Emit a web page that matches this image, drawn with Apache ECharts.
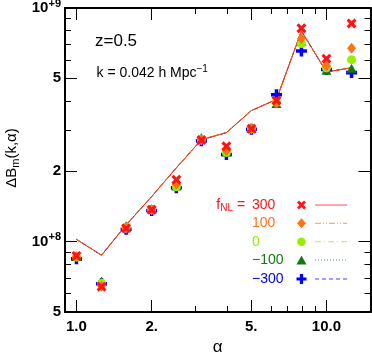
<!DOCTYPE html>
<html><head><meta charset="utf-8">
<script src="https://cdn.jsdelivr.net/npm/echarts@6/dist/echarts.min.js"></script>
<style>html,body{margin:0;padding:0;background:#fff}#c{width:372px;height:354px}</style>
</head><body><div id="c"></div>
<script>
// ---- data ----
const alphaValues = [1.0, 1.26, 1.58, 2.0, 2.51, 3.16, 3.98, 5.01, 6.31, 7.94, 10.0, 12.6];
const fnlLabels = ['300', '100', '0', '\u2212100', '\u2212300'];
const bm_fnl300  = [0.869e8, 0.642e8, 1.14e8, 1.37e8, 1.84e8, 2.72e8, 2.56e8, 3.04e8, 4.02e8, 8.19e8, 6.07e8, 8.58e8];
const bm_fnl100  = [0.863e8, 0.645e8, 1.14e8, 1.37e8, 1.76e8, 2.72e8, 2.45e8, 3.04e8, 3.92e8, 7.40e8, 5.64e8, 6.72e8];
const bm_fnl0    = [0.860e8, 0.662e8, 1.15e8, 1.37e8, 1.72e8, 2.74e8, 2.41e8, 3.04e8, 3.95e8, 7.04e8, 5.55e8, 6.01e8];
const bm_fnlm100 = [0.865e8, 0.678e8, 1.17e8, 1.38e8, 1.73e8, 2.79e8, 2.42e8, 3.05e8, 3.90e8, 7.20e8, 5.41e8, 5.52e8];
const bm_fnlm300 = [0.844e8, 0.660e8, 1.13e8, 1.36e8, 1.70e8, 2.70e8, 2.36e8, 3.03e8, 4.25e8, 6.55e8, 5.46e8, 5.29e8];
const theoryCurve = [1.023e8, 0.875e8, 1.18e8, 1.56e8, 2.07e8, 2.73e8, 2.93e8, 3.64e8, 4.06e8, 7.97e8, 5.32e8, 5.55e8];
const xTickMajor = [1, 2, 5, 10];
const xTickMajorLabels = ['1.0', '2.', '5.', '10.0'];
const xTickMinor = [3, 4, 6, 7, 8, 9];
const yTickMajor = [5e7, 1e8, 2e8, 5e8, 1e9];
const yTickMajorLabels = ['5', '10{sup|+8}', '2', '5', '10{sup|+9}'];
const yTickMinor = [6e7, 7e7, 8e7, 9e7, 3e8, 4e8, 6e8, 7e8, 8e8, 9e8];

// ---- styling ----
const FONT = 'Liberation Sans, Arial, Helvetica, sans-serif';
const colors = ['#ff1414', '#ff7216', '#99ee00', '#137a13', '#0000ff'];
const plusPath = 'path://M3.4,0H6.6V3.4H10V6.6H6.6V10H3.4V6.6H0V3.4H3.4Z';
const crossPath = 'path://M0,2.2L2.2,0L5,2.8L7.8,0L10,2.2L7.2,5L10,7.8L7.8,10L5,7.2L2.2,10L0,7.8L2.8,5Z';
const symbols = [crossPath, 'diamond', 'circle', 'triangle', plusPath];
const symbolSizes = [10, [9, 11], 9, [10, 9], 11];
const lineTypes = ['solid', [6, 2, 1, 2, 1, 2], [6, 3, 1, 3], [1, 2], [4, 3]];
const markerSets = [bm_fnl300, bm_fnl100, bm_fnl0, bm_fnlm100, bm_fnlm300];

function pairs(vals) { return alphaValues.map((a, i) => [a, vals[i]]); }

const series = [];
// theory lines (drawn from bottom to top: -300 ... 300, then orange over red)
[4, 3, 2, 0, 1].forEach(i => {
  series.push({
    type: 'line', xAxisIndex: 0, yAxisIndex: 0, data: pairs(theoryCurve),
    showSymbol: false, symbol: 'none', silent: true, z: 2 + (i === 1 ? 0.5 : 0),
    lineStyle: { color: colors[i], width: 1, type: lineTypes[i], opacity: i === 1 ? 0.7 : 1 }
  });
});
// markers, red on top
[4, 3, 2, 1, 0].forEach((i, k) => {
  series.push({
    type: 'scatter', xAxisIndex: 0, yAxisIndex: 0, data: pairs(markerSets[i]),
    symbol: symbols[i], symbolSize: symbolSizes[i], z: 5 + k,
    itemStyle: { color: colors[i], opacity: 1 }
  });
});

function xAxisDef(pos, vals, len, withLabels) {
  return {
    type: 'log', logBase: 10, min: 0.9, max: 15, position: pos,
    axisLine: { show: withLabels, lineStyle: { color: '#000', width: 2 } },
    axisTick: { show: true, inside: true, length: len, customValues: vals, lineStyle: { color: '#000', width: 1 } },
    axisLabel: pos === 'bottom' && withLabels ? {
      show: true, customValues: vals, margin: 7, color: '#000', fontFamily: FONT, fontWeight: 'bold', fontSize: 15,
      formatter: v => { const j = xTickMajor.findIndex(t => Math.abs(t - v) < 1e-6); return j >= 0 ? xTickMajorLabels[j] : ''; }
    } : { show: false },
    splitLine: { show: false }, minorTick: { show: false },
    name: pos === 'bottom' && withLabels ? '\u03b1' : '', nameLocation: 'middle', nameGap: 25,
    nameTextStyle: { fontFamily: FONT, fontSize: 17, color: '#000' }
  };
}
function yAxisDef(pos, vals, len, withLabels) {
  return {
    type: 'log', logBase: 10, min: 5e7, max: 1e9, position: pos,
    axisLine: { show: withLabels, lineStyle: { color: '#000', width: 2 } },
    axisTick: { show: true, inside: true, length: len, customValues: vals, lineStyle: { color: '#000', width: 1 } },
    axisLabel: pos === 'left' && withLabels ? {
      show: true, customValues: vals, margin: 4, color: '#000', fontFamily: FONT, fontWeight: 'bold', fontSize: 15,
      formatter: v => { const j = yTickMajor.findIndex(t => Math.abs(t - v) / t < 1e-6); return j >= 0 ? yTickMajorLabels[j] : ''; },
      rich: { sup: { fontSize: 11, fontWeight: 'bold', fontFamily: FONT, color: '#000', padding: [0, 0, 9, 0] } }
    } : { show: false },
    splitLine: { show: false }, minorTick: { show: false }
  };
}

// legend (graphic) helpers
const legendRowsY = [205, 223.3, 241.7, 260, 279];
const legendNumX = 252, legendMarkX = 301.5, legendLineX0 = 315, legendLineX1 = 347;
function polyFromUnit(pts, cx, cy, w, h) { return pts.map(p => [cx + (p[0] - 5) * w / 10, cy + (p[1] - 5) * h / 10]); }
const crossUnit = [[0,2.2],[2.2,0],[5,2.8],[7.8,0],[10,2.2],[7.2,5],[10,7.8],[7.8,10],[5,7.2],[2.2,10],[0,7.8],[2.8,5]];
const plusUnit = [[3.4,0],[6.6,0],[6.6,3.4],[10,3.4],[10,6.6],[6.6,6.6],[6.6,10],[3.4,10],[3.4,6.6],[0,6.6],[0,3.4],[3.4,3.4]];
const diamondUnit = [[5,0],[10,5],[5,10],[0,5]];
const triUnit = [[5,0],[10,10],[0,10]];
const graphics = [];
fnlLabels.forEach((lab, i) => {
  const y = legendRowsY[i];
  graphics.push({ type: 'text', x: legendNumX, y: y, z: 20, style: { text: lab, fill: colors[i], font: '14px ' + FONT, align: 'left', verticalAlign: 'middle' } });
  let mk;
  if (i === 0) mk = { type: 'polygon', shape: { points: polyFromUnit(crossUnit, legendMarkX, y, 9, 9) } };
  else if (i === 1) mk = { type: 'polygon', shape: { points: polyFromUnit(diamondUnit, legendMarkX, y, 9, 10) } };
  else if (i === 2) mk = { type: 'circle', shape: { cx: legendMarkX, cy: y, r: 4.3 } };
  else if (i === 3) mk = { type: 'polygon', shape: { points: polyFromUnit(triUnit, legendMarkX, y, 10, 9) } };
  else mk = { type: 'polygon', shape: { points: polyFromUnit(plusUnit, legendMarkX, y, 10, 10) } };
  mk.style = { fill: colors[i] }; mk.z = 20;
  graphics.push(mk);
  graphics.push({ type: 'line', z: 20, shape: { x1: legendLineX0, y1: y, x2: legendLineX1, y2: y },
    style: { stroke: colors[i], lineWidth: 1, lineDash: lineTypes[i] === 'solid' ? null : lineTypes[i], opacity: 0.75 } });
});
graphics.push({ type: 'text', x: 249, y: legendRowsY[0], z: 20, style: {
  text: '{a|f}{s|NL}{a| = }', align: 'right', verticalAlign: 'middle',
  rich: { a: { fontSize: 14, fontFamily: FONT, fill: colors[0], color: colors[0] }, s: { fontSize: 10, fontFamily: FONT, color: colors[0], fill: colors[0], padding: [7, 0, 0, 0] } } } });
graphics.push({ type: 'text', x: 95, y: 41, z: 20, style: { text: 'z=0.5', font: '17px ' + FONT, fill: '#000', align: 'left', verticalAlign: 'middle' } });
graphics.push({ type: 'text', x: 96.5, y: 73, z: 20, style: {
  text: '{a|k = 0.042 h Mpc}{s|\u22121}', align: 'left', verticalAlign: 'middle',
  rich: { a: { fontSize: 14, fontFamily: FONT, color: '#000' }, s: { fontSize: 10, fontFamily: FONT, color: '#000', padding: [0, 0, 8, 0] } } } });
graphics.push({ type: 'text', x: 12, y: 158, rotation: Math.PI / 2, z: 20, style: {
  text: '{a|\u0394B}{s|m}{a|(k,\u03b1)}', align: 'center', verticalAlign: 'middle',
  rich: { a: { fontSize: 15, fontFamily: FONT, color: '#000' }, s: { fontSize: 11, fontFamily: FONT, color: '#000', padding: [7, 0, 0, 0] } } } });

const chart = echarts.init(document.getElementById('c'), null, { renderer: 'canvas' });
chart.setOption({
  animation: false,
  backgroundColor: '#fff',
  grid: { left: 65, right: 1.5, top: 8, bottom: 42, containLabel: false, outerBoundsMode: 'none' },
  xAxis: [
    xAxisDef('bottom', xTickMajor, 12, true),
    xAxisDef('bottom', xTickMinor, 6, false),
    xAxisDef('top', xTickMajor, 12, true),
    xAxisDef('top', xTickMinor, 6, false)
  ],
  yAxis: [
    yAxisDef('left', yTickMajor, 12, true),
    yAxisDef('left', yTickMinor, 6, false),
    yAxisDef('right', yTickMajor, 12, true),
    yAxisDef('right', yTickMinor, 6, false)
  ],
  series: series,
  graphic: graphics
});
</script>
</body></html>
